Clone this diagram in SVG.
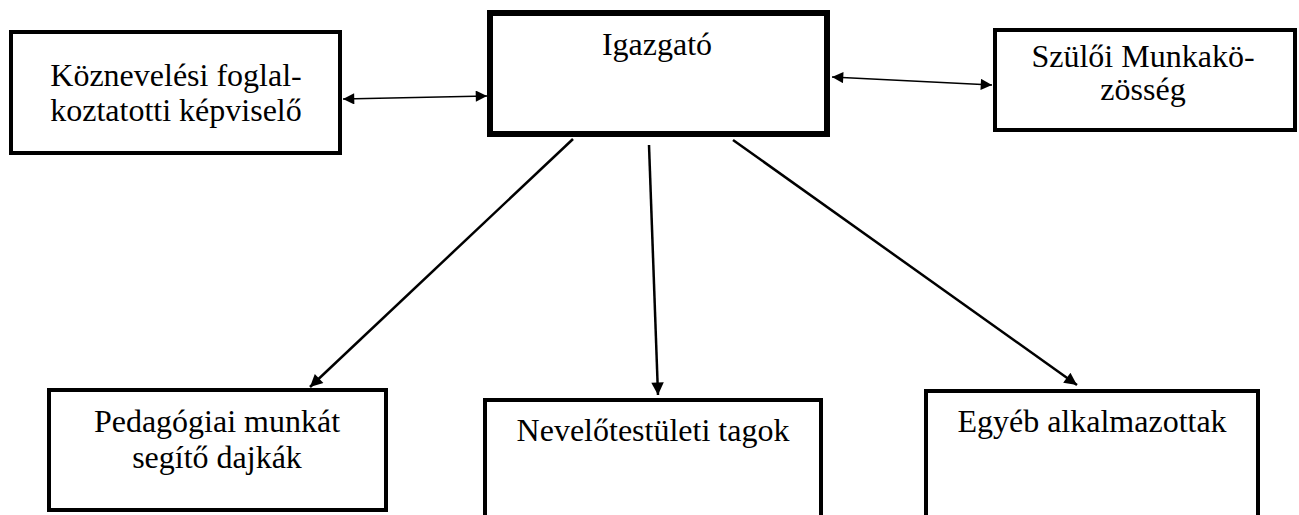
<svg xmlns="http://www.w3.org/2000/svg" width="1299" height="515" viewBox="0 0 1299 515">
<style>
.box{fill:#fff;stroke:#000;stroke-width:4}
.main{fill:#fff;stroke:#000;stroke-width:6}
.t{font-family:"Liberation Serif","Times New Roman",serif;font-size:32px;fill:#000;text-anchor:middle}
.h{stroke:#000;stroke-width:1.5;fill:none}
.d{stroke:#000;stroke-width:2.5;fill:none}
</style>
<defs>
<marker id="ah" viewBox="0 0 10 10" refX="10" refY="5" markerWidth="9" markerHeight="7.5" markerUnits="strokeWidth" orient="auto-start-reverse">
<path d="M0,0 L10,5 L0,10 Z" fill="#000"/>
</marker>
<marker id="ad" viewBox="0 0 10 10" refX="10" refY="5" markerWidth="6" markerHeight="5" markerUnits="strokeWidth" orient="auto">
<path d="M0,0 L10,5 L0,10 Z" fill="#000"/>
</marker>
</defs>
<g id="connectors">
<line class="h" x1="343" y1="99" x2="487" y2="96" marker-start="url(#ah)" marker-end="url(#ah)"/>
<line class="h" x1="832" y1="77" x2="992" y2="85" marker-start="url(#ah)" marker-end="url(#ah)"/>
<line class="d" x1="573" y1="139" x2="310" y2="387" marker-end="url(#ad)"/>
<line class="d" x1="649" y1="145" x2="658" y2="395" marker-end="url(#ad)"/>
<line class="d" x1="733" y1="140" x2="1077" y2="385" marker-end="url(#ad)"/>
</g>
<g id="kozneveles">
<rect class="box" x="11" y="32" width="329" height="121"/>
<text class="t" x="176" y="86">Köznevelési foglal-</text>
<text class="t" x="176" y="121">koztatotti képviselő</text>
</g>
<g id="igazgato">
<rect class="main" x="490" y="13" width="337" height="121"/>
<text class="t" x="657" y="55">Igazgató</text>
</g>
<g id="szuloi">
<rect class="box" x="995" y="30" width="300" height="100"/>
<text class="t" x="1143" y="67">Szülői Munkakö-</text>
<text class="t" x="1143" y="100">zösség</text>
</g>
<g id="pedagogiai">
<rect class="box" x="49" y="390" width="337" height="120"/>
<text class="t" x="217" y="432">Pedagógiai munkát</text>
<text class="t" x="217" y="468">segítő dajkák</text>
</g>
<g id="nevelotestuleti">
<rect class="box" x="485" y="400" width="336" height="130"/>
<text class="t" x="653" y="441">Nevelőtestületi tagok</text>
</g>
<g id="egyeb">
<rect class="box" x="926" y="391" width="332" height="140"/>
<text class="t" x="1092" y="432">Egyéb alkalmazottak</text>
</g>
</svg>
